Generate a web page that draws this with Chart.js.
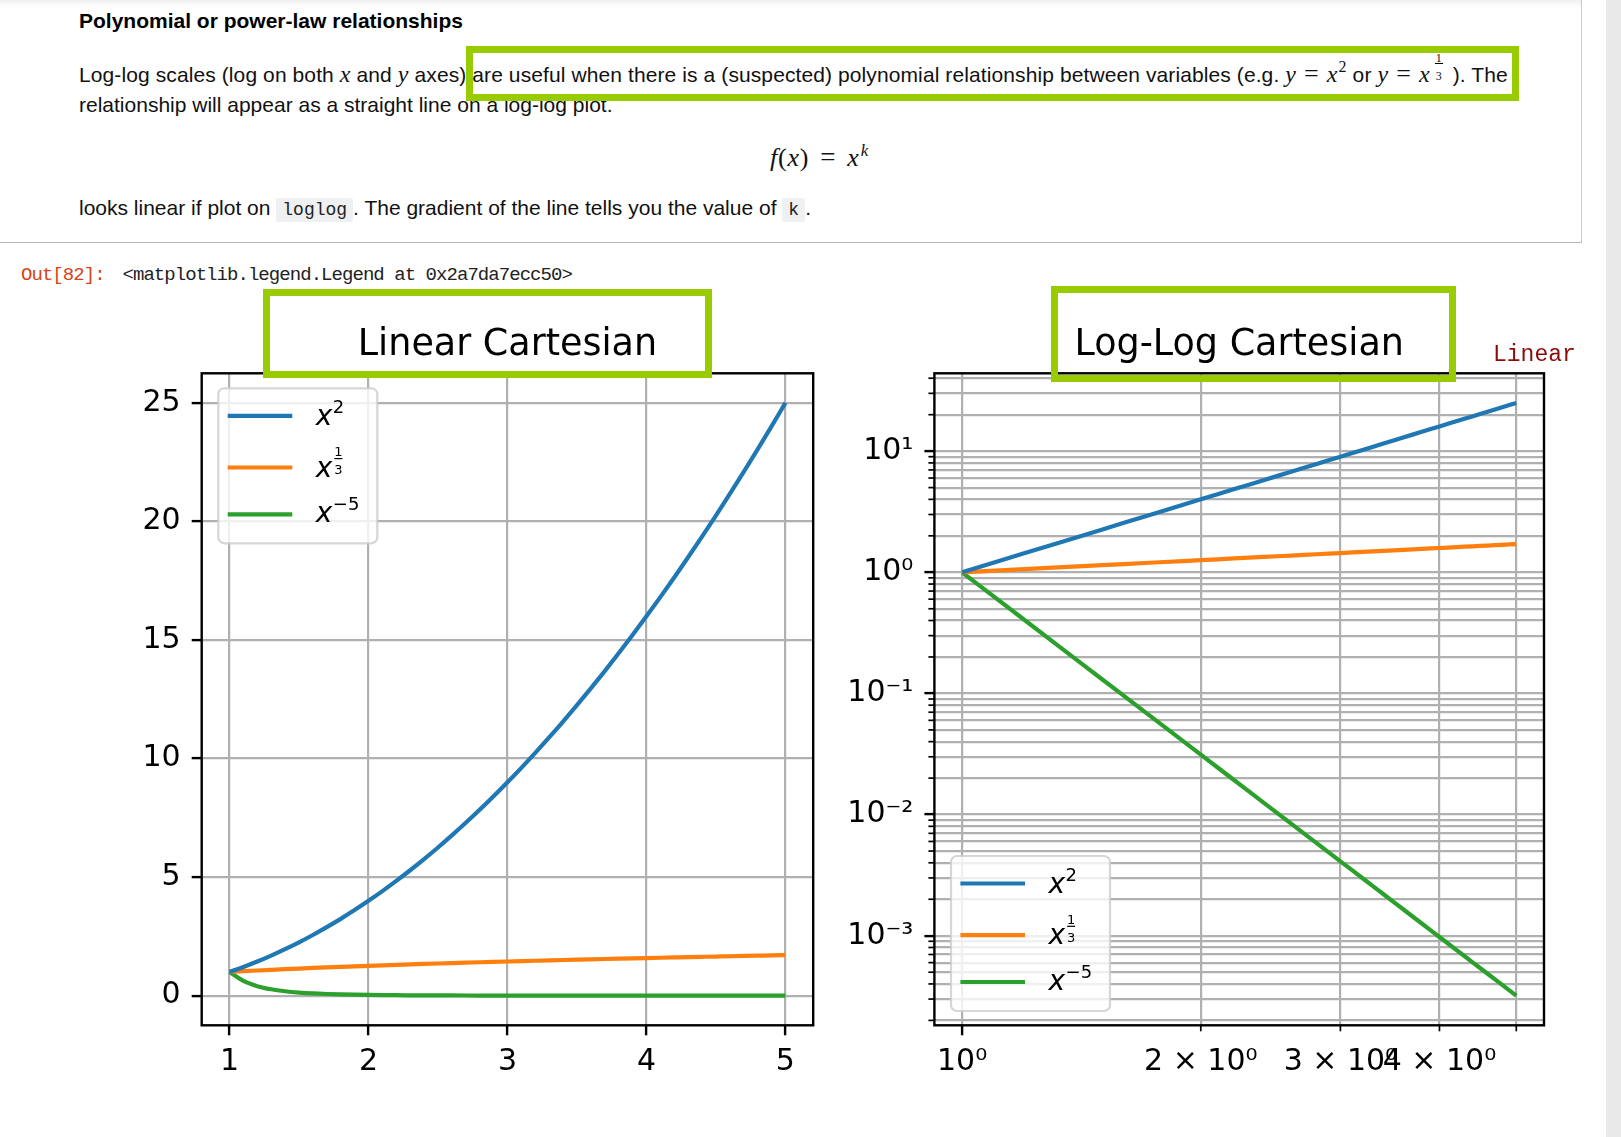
<!DOCTYPE html>
<html>
<head>
<meta charset="utf-8">
<script src="https://cdn.jsdelivr.net/npm/chart.js@4.4.1/dist/chart.umd.min.js"></script>
<style>
  html, body { margin: 0; padding: 0; background: #fff; }
  body { width: 1621px; height: 1137px; position: relative; overflow: hidden;
         font-family: "Liberation Sans", Arial, sans-serif; color: #111; }
  .cell { position: absolute; left: -2px; top: -2px; width: 1583px; height: 244px;
          border-right: 1px solid #c9c9c9; border-bottom: 1.5px solid #b5b5b5;
          box-shadow: inset 0 9px 8px -6px rgba(0,0,0,0.10); }
  .scroll { position: absolute; left: 1606px; top: 0; width: 15px; height: 1137px; background: #e9e9e9; }
  .t { position: absolute; white-space: nowrap; font-size: 21px; line-height: 21px; }
  .h { font-weight: bold; color: #000; }
  .mi { font-family: "Liberation Serif", serif; font-style: italic; font-size: 24px; }
  .mo { font-family: "Liberation Serif", serif; font-size: 26px; margin: 0 8px; }
  .ms { font-family: "Liberation Serif", serif; font-size: 16px; position: relative; top: -10px; line-height: 0; margin-left: 1px; }
  .mfrac { display: inline-block; position: relative; width: 10px; height: 0; margin-left: 4px; margin-right: 3px;
           font-family: "Liberation Serif", serif; font-size: 12px; line-height: 12px; }
  .mfrac .num, .mfrac .den { position: absolute; left: 0; width: 10px; text-align: center; }
  .mfrac .num { bottom: 18px; }
  .mfrac .den { bottom: 0px; }
  .mfrac .bar { position: absolute; left: 1px; width: 8px; height: 1px; bottom: 18.5px; background: #000; }
  .code { font-family: "Liberation Mono", monospace; font-size: 18px; background: #eff0f1;
          padding: 2px 6px; border-radius: 2px; color: #222; }
  .mono { position: absolute; white-space: nowrap; font-family: "Liberation Mono", monospace;
          font-size: 19px; line-height: 19px; letter-spacing: -0.95px; }
  .gbox { position: absolute; border: 7px solid #99cc00; box-sizing: border-box; }
  canvas { position: absolute; }
</style>
</head>
<body>
<div class="cell"></div>
<div class="scroll"></div>

<div class="t h" style="left:79px; top:9.9px;">Polynomial or power-law relationships</div>
<div class="t" style="left:79px; top:63.2px; letter-spacing:0.1px;">Log-log scales (log on both <span class="mi">x</span> and <span class="mi">y</span> axes) are useful when there is a (suspected) polynomial relationship between variables (e.g. <span class="mi">y</span><span class="mo">=</span><span class="mi">x</span><span class="ms">2</span> or <span class="mi">y</span><span class="mo">=</span><span class="mi">x</span><span class="mfrac"><span class="num">1</span><span class="bar"></span><span class="den">3</span></span> ). The</div>
<div class="t" style="left:79px; top:93.9px;">relationship will appear as a straight line on a log-log plot.</div>
<div class="t" style="left:770px; top:143.9px; font-family:'Liberation Serif',serif; font-size:26px; line-height:26px; letter-spacing:0.8px;"><i>f</i>(<i>x</i>)<span style="margin:0 11px; font-size:27px;">=</span><i>x</i><sup style="font-size:17px; line-height:0; margin-left:1px;"><i>k</i></sup></div>
<div class="t" style="left:79px; top:197.2px;">looks linear if plot on <span class="code">loglog</span>. The gradient of the line tells you the value of <span class="code">k</span>.</div>

<div class="mono" style="left:21px; top:266.4px; color:#d84315;">Out[82]:</div>
<div class="mono" style="left:122.5px; top:266.4px; color:#222;">&lt;matplotlib.legend.Legend at 0x2a7da7ecc50&gt;</div>

<canvas id="linChart" width="750" height="820" style="left:100px; top:280px;"></canvas>
<canvas id="logChart" width="760" height="820" style="left:830px; top:280px;"></canvas>

<div class="mono" style="left:1493px; top:343.5px; font-size:23px; line-height:23px; letter-spacing:0; color:#8b0a0a;">Linear</div>

<div class="gbox" style="left:466px; top:46px; width:1053px; height:55px;"></div>
<div class="gbox" style="left:263px; top:289px; width:449px; height:89px;"></div>
<div class="gbox" style="left:1051px; top:286px; width:405px; height:96px;"></div>

<script>
// sample points
const xValues = [1.0, 1.1, 1.2, 1.3, 1.4, 1.5, 1.6, 1.7, 1.8, 1.9, 2.0, 2.1, 2.2, 2.3, 2.4, 2.5, 2.6, 2.7, 2.8, 2.9,
  3.0, 3.1, 3.2, 3.3, 3.4, 3.5, 3.6, 3.7, 3.8, 3.9, 4.0, 4.1, 4.2, 4.3, 4.4, 4.5, 4.6, 4.7, 4.8, 4.9, 5.0];
const squareValues = [1, 1.21, 1.44, 1.69, 1.96, 2.25, 2.56, 2.89, 3.24, 3.61, 4, 4.41, 4.84, 5.29, 5.76, 6.25,
  6.76, 7.29, 7.84, 8.41, 9, 9.61, 10.24, 10.89, 11.56, 12.25, 12.96, 13.69, 14.44, 15.21, 16, 16.81, 17.64,
  18.49, 19.36, 20.25, 21.16, 22.09, 23.04, 24.01, 25];
const cubeRootValues = [1, 1.0323, 1.0627, 1.0914, 1.1187, 1.1447, 1.1696, 1.1935, 1.2164, 1.2386, 1.2599,
  1.2806, 1.3006, 1.32, 1.3389, 1.3572, 1.3751, 1.3925, 1.4095, 1.426, 1.4422, 1.4581, 1.4736, 1.4888, 1.5037,
  1.5183, 1.5326, 1.5467, 1.5605, 1.5741, 1.5874, 1.6005, 1.6134, 1.6261, 1.6386, 1.651, 1.6631, 1.6751, 1.6869,
  1.6985, 1.71];
const inverseFifthValues = [1, 0.6209, 0.4019, 0.2693, 0.1859, 0.1317, 0.09537, 0.07043, 0.05292, 0.04039,
  0.03125, 0.02449, 0.0194, 0.01554, 0.01256, 0.01024, 0.008417, 0.006969, 0.00581, 0.004875, 0.004115,
  0.003493, 0.00298, 0.002555, 0.002201, 0.001904, 0.001654, 0.001442, 0.001262, 0.001108, 0.0009766,
  0.0008631, 0.0007652, 0.0006802, 0.0006064, 0.0005419, 0.0004855, 0.000436, 0.0003925, 0.000354, 0.00032];

const seriesLabels = ['x^2', 'x^(1/3)', 'x^(-5)'];
const seriesExponents = ['2', '1/3', '\u22125'];
const seriesColors = ['#1f77b4', '#ff7f0e', '#2ca02c'];
const chartTitles = ['Linear Cartesian', 'Log-Log Cartesian'];

// tick positions and labels
const linearXTicks = [1, 2, 3, 4, 5];
const linearYTicks = [0, 5, 10, 15, 20, 25];
const logXTicks = [1, 2, 3, 4, 5];
const logXTickLabels = ['10\u2070', '2 \u00d7 10\u2070', '3 \u00d7 10\u2070', '4 \u00d7 10\u2070', ''];
const logXMajorTicks = [1];
const logYMajorTicks = [0.001, 0.01, 0.1, 1, 10];
const logYTickLabels = ['10\u207b\u00b3', '10\u207b\u00b2', '10\u207b\u00b9', '10\u2070', '10\u00b9'];
const logYMinorTicks = [0.0002, 0.0003, 0.0004, 0.0005, 0.0006, 0.0007, 0.0008, 0.0009,
  0.002, 0.003, 0.004, 0.005, 0.006, 0.007, 0.008, 0.009,
  0.02, 0.03, 0.04, 0.05, 0.06, 0.07, 0.08, 0.09,
  0.2, 0.3, 0.4, 0.5, 0.6, 0.7, 0.8, 0.9,
  2, 3, 4, 5, 6, 7, 8, 9,
  20, 30, 40];

const seriesValues = [squareValues, cubeRootValues, inverseFifthValues];

function makeDatasets(smooth) {
  return seriesValues.map((vals, i) => ({
    label: seriesLabels[i],
    exponent: seriesExponents[i],
    data: xValues.map((x, j) => ({ x: x, y: vals[j] })),
    borderColor: seriesColors[i],
    backgroundColor: seriesColors[i],
    borderWidth: 4.2,
    pointRadius: 0,
    fill: false,
    cubicInterpolationMode: smooth ? 'monotone' : 'default',
    tension: 0,
  }));
}

const FONT = '"DejaVu Sans", sans-serif';

// black box round the plotting area, like matplotlib spines
const framePlugin = {
  id: 'frame',
  afterDatasetsDraw(chart) {
    const { ctx, chartArea: a } = chart;
    ctx.save();
    ctx.strokeStyle = '#000';
    ctx.lineWidth = 2.4;
    ctx.strokeRect(a.left, a.top, a.width, a.height);
    ctx.restore();
  },
};

// shorter tick marks for minor ticks
const minorTickPlugin = {
  id: 'minorTicks',
  afterDatasetsDraw(chart) {
    const { ctx, chartArea: a } = chart;
    ctx.save();
    ctx.strokeStyle = '#000';
    ctx.lineWidth = 1.7;
    const xs = chart.scales.x, ys = chart.scales.y;
    xs.ticks.filter(t => !t.major).forEach(t => {
      const px = xs.getPixelForValue(t.value);
      ctx.beginPath(); ctx.moveTo(px, a.bottom); ctx.lineTo(px, a.bottom + 6); ctx.stroke();
    });
    ys.ticks.filter(t => !t.major).forEach(t => {
      const py = ys.getPixelForValue(t.value);
      ctx.beginPath(); ctx.moveTo(a.left, py); ctx.lineTo(a.left - 6, py); ctx.stroke();
    });
    ctx.restore();
  },
};

// matplotlib style legend inside the axes
const cornerLegendPlugin = {
  id: 'cornerLegend',
  afterDraw(chart, args, opts) {
    const { ctx, chartArea: a } = chart;
    const w = 159, h = 155;
    const x0 = a.left + 16.6;
    const y0 = opts.corner === 'upper left' ? a.top + 15 : a.bottom - 14.3 - h;
    const rowY = [27.5, 79.2, 126];
    const baseOff = [9, 9, 7.5];
    ctx.save();
    ctx.beginPath();
    ctx.roundRect(x0, y0, w, h, 6);
    ctx.fillStyle = 'rgba(255,255,255,0.8)';
    ctx.fill();
    ctx.lineWidth = 2.2;
    ctx.strokeStyle = 'rgba(204,204,204,0.8)';
    ctx.stroke();
    chart.data.datasets.forEach((ds, i) => {
      const y = y0 + rowY[i];
      ctx.beginPath();
      ctx.strokeStyle = ds.borderColor;
      ctx.lineWidth = 4.2;
      ctx.moveTo(x0 + 9.4, y);
      ctx.lineTo(x0 + 74, y);
      ctx.stroke();

      const tx = x0 + 97.5, base = y + baseOff[i];
      ctx.fillStyle = '#000';
      ctx.textBaseline = 'alphabetic';
      ctx.textAlign = 'left';
      ctx.font = 'oblique 28px ' + FONT;
      ctx.fillText('x', tx, base);
      const ex = tx + ctx.measureText('x').width + 0.5;
      if (ds.exponent.indexOf('/') >= 0) {
        const parts = ds.exponent.split('/');
        ctx.font = '13px ' + FONT;
        ctx.textAlign = 'center';
        ctx.fillText(parts[0], ex + 5.5, base - 20.5);
        ctx.fillText(parts[1], ex + 5.5, base - 2.5);
        ctx.fillRect(ex + 1.5, base - 18.5, 8, 1.2);
      } else {
        ctx.font = '18px ' + FONT;
        ctx.fillText(ds.exponent, ex, base - 11.7);
      }
    });
    ctx.restore();
  },
};

function axisStyle(extra) {
  return Object.assign({
    border: { display: false },
    grid: {
      color: '#b0b0b0',
      lineWidth: 2.2,
      tickLength: 10,
      tickWidth: 2.4,
      tickColor: c => (c.tick && c.tick.major ? '#000' : 'rgba(0,0,0,0)'),
    },
  }, extra);
}

function tickFont() {
  return { family: FONT, size: 30 };
}

function titleOptions(text) {
  return {
    display: true,
    text: text,
    fullSize: false,
    color: '#000',
    font: { family: FONT, size: 36.5, weight: 'normal', lineHeight: 1.2 },
    padding: { top: 43.5, bottom: 6 },
  };
}

new Chart(document.getElementById('linChart'), {
  type: 'line',
  data: { datasets: makeDatasets(true) },
  options: {
    responsive: false,
    animation: false,
    devicePixelRatio: 1,
    layout: { padding: { left: 0, right: 36.8, top: 0, bottom: 0 } },
    plugins: {
      legend: { display: false },
      tooltip: { enabled: false },
      title: titleOptions(chartTitles[0]),
      cornerLegend: { corner: 'upper left' },
    },
    scales: {
      x: axisStyle({
        type: 'linear', min: 0.8, max: 5.2,
        afterBuildTicks: s => { s.ticks = linearXTicks.map(v => ({ value: v, major: true })); },
        afterFit: s => { s.height = 74.7; },
        ticks: { font: tickFont(), color: '#000', padding: 9, maxRotation: 0, minRotation: 0, autoSkip: false,
                 callback: v => String(v) },
      }),
      y: axisStyle({
        type: 'linear', min: -1.2495, max: 26.2495,
        afterBuildTicks: s => { s.ticks = linearYTicks.map(v => ({ value: v, major: true })); },
        afterFit: s => { s.width = 101.7; },
        ticks: { font: tickFont(), color: '#000', padding: 11, autoSkip: false, callback: v => String(v) },
      }),
    },
  },
  plugins: [minorTickPlugin, framePlugin, cornerLegendPlugin],
});

new Chart(document.getElementById('logChart'), {
  type: 'line',
  data: { datasets: makeDatasets(false) },
  options: {
    responsive: false,
    animation: false,
    devicePixelRatio: 1,
    layout: { padding: { left: 0, right: 46, top: 0, bottom: 0 } },
    plugins: {
      legend: { display: false },
      tooltip: { enabled: false },
      title: titleOptions(chartTitles[1]),
      cornerLegend: { corner: 'lower left' },
    },
    scales: {
      x: axisStyle({
        type: 'logarithmic', min: 0.92268, max: 5.419,
        afterBuildTicks: s => {
          s.ticks = logXTicks.map(v => ({ value: v, major: logXMajorTicks.indexOf(v) >= 0 }));
        },
        afterFit: s => { s.height = 74.7; },
        ticks: { font: tickFont(), color: '#000', padding: 9, maxRotation: 0, minRotation: 0, autoSkip: false,
                 callback: v => logXTickLabels[logXTicks.indexOf(v)] || '' },
      }),
      y: axisStyle({
        type: 'logarithmic', min: 0.00018224, max: 43.92,
        afterBuildTicks: s => {
          const all = logYMajorTicks.concat(logYMinorTicks).sort((p, q) => p - q);
          s.ticks = all.map(v => ({ value: v, major: logYMajorTicks.indexOf(v) >= 0 }));
        },
        afterFit: s => { s.width = 104.4; },
        ticks: { font: tickFont(), color: '#000', padding: 11, autoSkip: false,
                 callback: v => { const k = logYMajorTicks.indexOf(v); return k >= 0 ? logYTickLabels[k] : ''; } },
      }),
    },
  },
  plugins: [minorTickPlugin, framePlugin, cornerLegendPlugin],
});
</script>
</body>
</html>
